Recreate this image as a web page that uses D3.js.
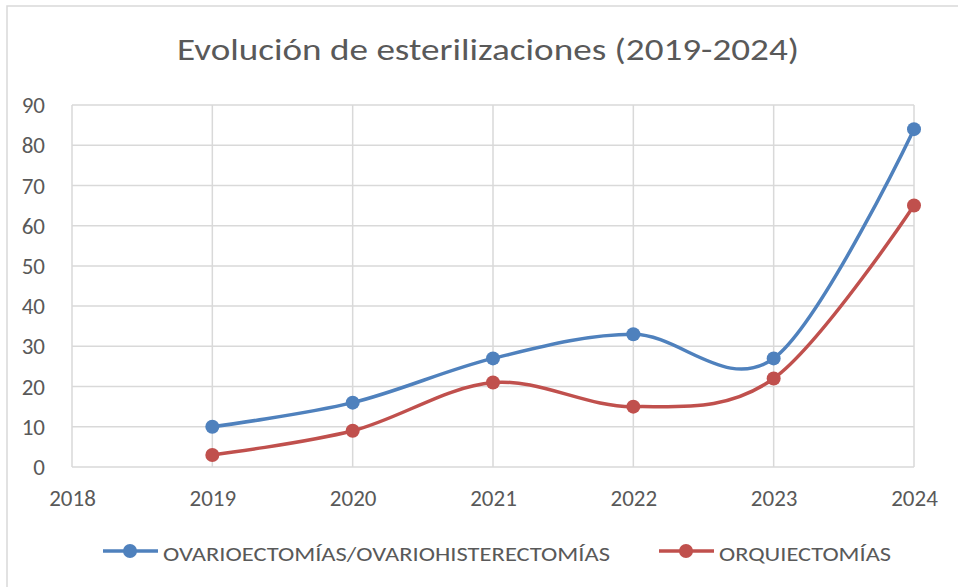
<!DOCTYPE html>
<meta charset="utf-8">
<html>
<head>
    <style>
        body { margin: 0; background: #fff; }
        text { font-family: Carlito, Calibri, Lato, "Open Sans", sans-serif; fill: #595959; }
        .grid line { stroke: #d9d9d9; stroke-width: 1.5px; }
        .axis path, .axis line { display: none; }
        .serie { fill: none; stroke-width: 3.5px; }
    </style>
    <script src="https://d3js.org/d3.v7.min.js"></script>
</head>
<body>
<svg id="svg" width="958" height="587"></svg>
<script>

    var years = [2019, 2020, 2021, 2022, 2023, 2024];
    var ovario = [10, 16, 27, 33, 27, 84];
    var orqui = [3, 9, 21, 15, 22, 65];
    var xTicks = [2018, 2019, 2020, 2021, 2022, 2023, 2024];
    var yTicks = [0, 10, 20, 30, 40, 50, 60, 70, 80, 90];
    var seriesNames = ["OVARIOECTOMÍAS/OVARIOHISTERECTOMÍAS", "ORQUIECTOMÍAS"];
    var seriesColors = ["#4f81bd", "#c0504d"];
    var title = "Evolución de esterilizaciones (2019-2024)";

    var svg = d3.select("svg");

    // marco del grafico
    svg.append("rect")
        .attr("x", 7).attr("y", 6)
        .attr("width", 960).attr("height", 600)
        .attr("fill", "#fff")
        .attr("stroke", "#d9d9d9")
        .attr("stroke-width", 1.5);

    var x = d3.scaleLinear().domain([2018, 2024]).range([72, 914]);
    var y = d3.scaleLinear().domain([0, 90]).range([467, 105]);

    // el titulo original es algo mas ancho, se ajusta con textLength
    svg.append("text")
        .attr("x", 177).attr("y", 60)
        .attr("textLength", 622)
        .attr("lengthAdjust", "spacingAndGlyphs")
        .style("font-size", "30px")
        .text(title);

    var grid = svg.append("g").attr("class", "grid");
    grid.selectAll(".h").data(yTicks).enter().append("line")
        .attr("x1", x(2018)).attr("x2", x(2024))
        .attr("y1", function (d) { return y(d); })
        .attr("y2", function (d) { return y(d); });
    grid.selectAll(".v").data(xTicks).enter().append("line")
        .attr("x1", function (d) { return x(d); })
        .attr("x2", function (d) { return x(d); })
        .attr("y1", y(0)).attr("y2", y(90));

    svg.append("g").attr("class", "axis")
        .attr("transform", "translate(" + (x(2018) - 24) + ",0)")
        .call(d3.axisLeft(y).tickValues(yTicks).tickSize(0).tickFormat(d3.format("d")))
        .selectAll("text").style("font-size", "23px").attr("dy", "0.33em");

    svg.append("g").attr("class", "axis")
        .attr("transform", "translate(0," + y(0) + ")")
        .call(d3.axisBottom(x).tickValues(xTicks).tickSize(0).tickFormat(d3.format("d")))
        .selectAll("text").style("font-size", "23px").attr("y", 39).attr("dy", 0);

    svg.selectAll(".axis text").style("fill", "#595959").style("font-family", "Carlito, Calibri, Lato, 'Open Sans', sans-serif");

    var line = d3.line()
        .x(function (d) { return x(d[0]); })
        .y(function (d) { return y(d[1]); })
        .curve(d3.curveCatmullRom.alpha(0));

    [ovario, orqui].forEach(function (vals, i) {
        var pts = years.map(function (yr, j) { return [yr, vals[j]]; });
        svg.append("path")
            .attr("class", "serie")
            .attr("stroke", seriesColors[i])
            .attr("d", line(pts));
        svg.selectAll(".m" + i).data(pts).enter().append("circle")
            .attr("cx", function (d) { return x(d[0]); })
            .attr("cy", function (d) { return y(d[1]); })
            .attr("r", 7)
            .attr("fill", seriesColors[i]);
    });

    // leyenda
    var legendX = [103, 659];
    var legendW = [447, 172];
    seriesNames.forEach(function (name, i) {
        var g = svg.append("g").attr("transform", "translate(" + legendX[i] + ",551)");
        g.append("line").attr("x1", 0).attr("x2", 55).attr("y1", 0).attr("y2", 0)
            .attr("stroke", seriesColors[i]).attr("stroke-width", 3.5);
        g.append("circle").attr("cx", 27).attr("cy", 0).attr("r", 7).attr("fill", seriesColors[i]);
        g.append("text").attr("x", 60).attr("y", 10)
            .attr("textLength", legendW[i])
            .attr("lengthAdjust", "spacingAndGlyphs")
            .style("font-size", "21px").text(name);
    });

</script>
</body>
</html>
